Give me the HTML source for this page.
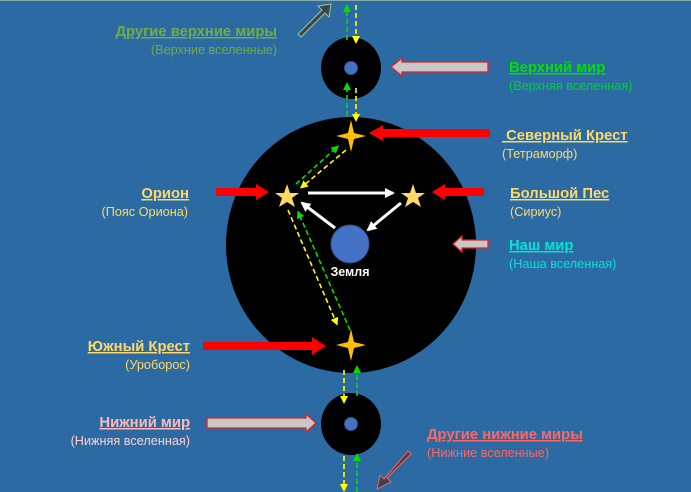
<!DOCTYPE html>
<html><head><meta charset="utf-8"><style>
html,body{margin:0;padding:0;background:#2c6aa4;}
svg{display:block}
text{font-family:"Liberation Sans",sans-serif;}
.t{font-weight:bold;font-size:14.8px;text-decoration:underline;}
.s{font-size:12.7px;}
</style></head><body>
<svg width="691" height="492" viewBox="0 0 691 492" xmlns="http://www.w3.org/2000/svg">
<defs>
<marker id="gu" markerWidth="8" markerHeight="8" refX="4" refY="4" orient="auto" markerUnits="userSpaceOnUse"><path d="M0,0 L8,4 L0,8z" fill="#00e000"/></marker>
<marker id="yu" markerWidth="8" markerHeight="8" refX="4" refY="4" orient="auto" markerUnits="userSpaceOnUse"><path d="M0,0 L8,4 L0,8z" fill="#ffff00"/></marker>
<marker id="wa" markerWidth="10" markerHeight="10" refX="8" refY="5" orient="auto" markerUnits="userSpaceOnUse"><path d="M0,0 L10,5 L0,10z" fill="#fff"/></marker>
</defs>
<rect width="691" height="492" fill="#2c6aa4"/>
<rect x="0" y="0" width="691" height="1" fill="#8aa"/>
<ellipse cx="351" cy="245" rx="125" ry="128" fill="#000"/>
<ellipse cx="351" cy="68" rx="30" ry="31" fill="#000"/>
<ellipse cx="351" cy="424" rx="30" ry="31" fill="#000"/>
<circle cx="351" cy="68" r="6.5" fill="#4472c4" stroke="#2f528f"/>
<circle cx="351" cy="424" r="6.5" fill="#4472c4" stroke="#2f528f"/>
<circle cx="350" cy="244" r="19" fill="#4472c4" stroke="#2f528f"/>
<text x="350" y="276" fill="#fff" font-size="12.5" font-weight="bold" text-anchor="middle">Земля</text>
<g stroke-width="1.6" stroke-dasharray="5,3" fill="none">
<line x1="347" y1="40" x2="347" y2="8" stroke="#00e000" marker-end="url(#gu)"/>
<line x1="347" y1="116" x2="347" y2="86" stroke="#00e000" marker-end="url(#gu)"/>
<line x1="356" y1="5" x2="356" y2="40" stroke="#ffff00" marker-end="url(#yu)"/>
<line x1="356" y1="88" x2="356" y2="118" stroke="#ffff00" marker-end="url(#yu)"/>
<line x1="344" y1="370" x2="344" y2="400" stroke="#ffff00" marker-end="url(#yu)"/>
<line x1="344" y1="456" x2="344" y2="488" stroke="#ffff00" marker-end="url(#yu)"/>
<line x1="357" y1="396" x2="357" y2="369" stroke="#00e000" marker-end="url(#gu)"/>
<line x1="357" y1="492" x2="357" y2="457" stroke="#00e000" marker-end="url(#gu)"/>
<line x1="296" y1="184" x2="336" y2="148" stroke="#00e000" marker-end="url(#gu)"/>
<line x1="346" y1="150" x2="303" y2="186" stroke="#ffff00" marker-end="url(#yu)"/>
<line x1="288" y1="210" x2="336" y2="322" stroke="#ffff00" marker-end="url(#yu)"/>
<line x1="350" y1="330" x2="299" y2="214" stroke="#00e000" marker-end="url(#gu)"/>
</g>
<g stroke="#fff" stroke-width="3">
<line x1="308" y1="193" x2="393" y2="193" marker-end="url(#wa)"/>
<line x1="335" y1="228" x2="302" y2="203" marker-end="url(#wa)"/>
<line x1="401" y1="203" x2="368" y2="230" marker-end="url(#wa)"/>
</g>
<path d="M351,120 L354,133 L366,136 L354,139 L351,152 L348,139 L336,136 L348,133z" fill="#ffc000"/>
<path d="M351,329 L354,342 L366,345 L354,348 L351,361 L348,348 L336,345 L348,342z" fill="#ffc000"/>
<polygon fill="#ffd966" points="287,184 290,193 299,193 292,198 295,207 287,202 279,207 282,198 275,193 284,193"/>
<polygon fill="#ffd966" points="413,184 416,193 425,193 418,198 421,207 413,202 405,207 408,198 401,193 410,193"/>
<g fill="#ff0000">
<path d="M369,133 L383,125 L383,129 L490,129 L490,137 L383,137 L383,141z"/>
<path d="M432,192 L445,184 L445,188 L484,188 L484,196 L445,196 L445,200z"/>
<path d="M269,192 L256,184 L256,188 L216,188 L216,196 L256,196 L256,200z"/>
<path d="M326,346 L312,337 L312,342 L203,342 L203,350 L312,350 L312,355z"/>
</g>
<g fill="#c8c8c8" stroke="#e02020" stroke-width="1.3">
<path d="M391,67 L402,58 L402,62 L488,62 L488,72 L402,72 L402,76z"/>
<path d="M453,244 L462,236 L462,240 L488,240 L488,248 L462,248 L462,252z"/>
<path d="M316,423 L306,414 L306,418 L207,418 L207,428 L306,428 L306,432z"/>
</g>
<path d="M298,34 L322,10 L318,6 L331,4 L329,17 L325,13 L301,37z" fill="#3a4350" stroke="#9fc98a" stroke-width="1"/>
<path d="M411,454 L387,478 L391,482 L377,489 L380,475 L384,479 L408,451z" fill="#3a4350" stroke="#ff6060" stroke-width="1"/>
<text class="t" x="277" y="36" fill="#70ad47" text-anchor="end">Другие верхние миры</text>
<text class="s" x="277" y="54" fill="#70ad47" text-anchor="end">(Верхние вселенные)</text>
<text class="t" x="509" y="72" fill="#00e000">Верхний мир</text>
<text class="s" x="509" y="90" fill="#00d040">(Верхняя вселенная)</text>
<text class="t" x="502" y="140" fill="#ffd966" xml:space="preserve"> Северный Крест</text>
<text class="s" x="502" y="158" fill="#ffd966">(Тетраморф)</text>
<text class="t" x="510" y="198" fill="#ffd966">Большой Пес</text>
<text class="s" x="510" y="216" fill="#ffd966">(Сириус)</text>
<text class="t" x="509" y="250" fill="#00e6d0">Наш мир</text>
<text class="s" x="509" y="268" fill="#00e6d0">(Наша вселенная)</text>
<text class="t" x="189" y="198" fill="#ffd966" text-anchor="end">Орион</text>
<text class="s" x="188" y="216" fill="#ffd966" text-anchor="end">(Пояс Ориона)</text>
<text class="t" x="190" y="351" fill="#ffd966" text-anchor="end">Южный Крест</text>
<text class="s" x="190" y="369" fill="#ffd966" text-anchor="end">(Уроборос)</text>
<text class="t" x="190" y="427" fill="#ffb8b8" text-anchor="end">Нижний мир</text>
<text class="s" x="190" y="445" fill="#ffd0d0" text-anchor="end">(Нижняя вселенная)</text>
<text class="t" x="427" y="439" fill="#ff6666">Другие нижние миры</text>
<text class="s" x="427" y="457" fill="#ff6666">(Нижние вселенные)</text>
</svg>
</body></html>
